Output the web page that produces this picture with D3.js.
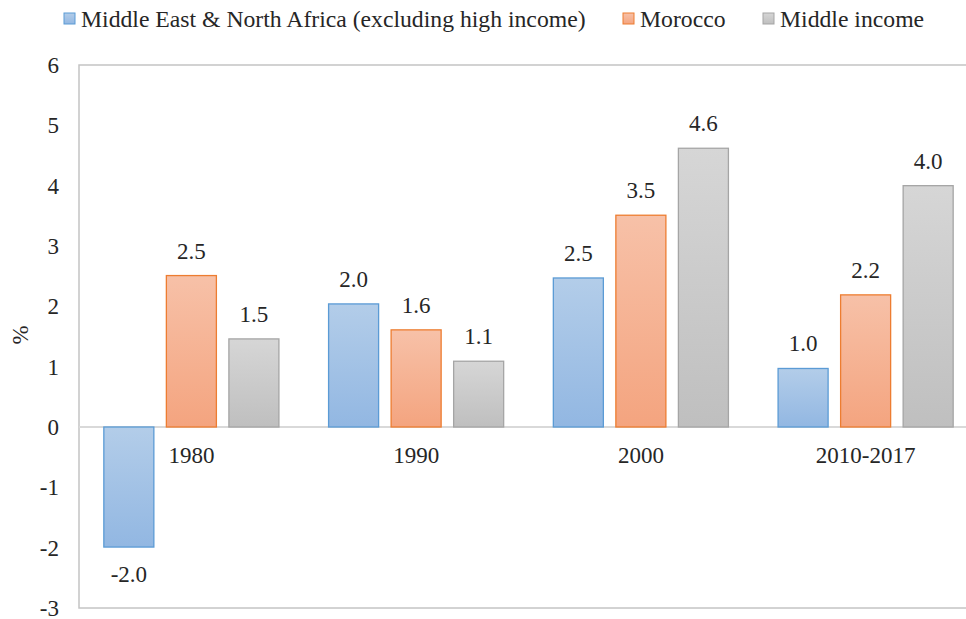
<!DOCTYPE html>
<html>
<head>
<meta charset="utf-8">
<script src="https://cdn.jsdelivr.net/npm/d3@7"></script>
<style>
  html,body{margin:0;padding:0;background:#fff;}
  svg{display:block;}
  text{font-family:"Liberation Serif","Times New Roman",serif;fill:#262626;}
</style>
</head>
<body>
<div id="chart"></div>
<script>
/* Grouped bar chart, three series per period, Excel-style gradient fills */
var categories=["1980","1990","2000","2010-2017"];
var seriesNames=["Middle East & North Africa (excluding high income)","Morocco","Middle income"];
var menaValues=[-1.99,2.04,2.47,0.97];
var moroccoValues=[2.51,1.61,3.51,2.19];
var middleIncomeValues=[1.46,1.09,4.62,4.0];
var yTicks=[-3,-2,-1,0,1,2,3,4,5,6];

var seriesValues=[menaValues,moroccoValues,middleIncomeValues];
var fills=[["#b3cde9","#92b7e2"],["#f7c1a8","#f4a47f"],["#d6d6d6","#bfbfbf"]];
var strokes=["#5b9bd5","#ed7d31","#a5a5a5"];

var W=966,H=619, pLeft=79,pRight=978,pTop=65,pBottom=608;
var svg=d3.select("#chart").append("svg").attr("width",W).attr("height",H);
var defs=svg.append("defs");
fills.forEach(function(f,i){
    var g=defs.append("linearGradient").attr("id","grad"+i).attr("x1",0).attr("y1",0).attr("x2",0).attr("y2",1);
    g.append("stop").attr("offset","0%").attr("stop-color",f[0]);
    g.append("stop").attr("offset","100%").attr("stop-color",f[1]);
});

var y=d3.scaleLinear().domain([-3,6]).range([pBottom,pTop]);
var x0=d3.scaleBand().domain(categories).range([pLeft,pRight]).paddingInner(0.221).paddingOuter(0.1105);
var x1=d3.scaleBand().domain(d3.range(seriesNames.length)).range([0,x0.bandwidth()]).paddingInner(0.2);

// plot frame
svg.append("rect").attr("x",pLeft).attr("y",pTop).attr("width",pRight-pLeft+20).attr("height",pBottom-pTop)
    .attr("fill","none").attr("stroke","#c4c4c4").attr("stroke-width",1.5);

// y tick labels
svg.append("g").selectAll("text").data(yTicks).enter().append("text")
    .attr("x",59).attr("y",function(d){return y(d);}).attr("dy","0.35em")
    .attr("text-anchor","end").style("font-size","23px").text(function(d){return d;});
svg.append("text").attr("transform","translate(20,335) rotate(-90)").attr("text-anchor","middle")
    .attr("dy","0.35em").style("font-size","23px").text("%");

// zero line
svg.append("line").attr("x1",pLeft).attr("x2",W).attr("y1",y(0)).attr("y2",y(0))
    .attr("stroke","#d9d9d9").attr("stroke-width",2);

// bars
var cells=[];
categories.forEach(function(c,ci){
    seriesValues.forEach(function(vals,si){cells.push({cat:c,s:si,v:vals[ci]});});
});
svg.append("g").selectAll("rect").data(cells).enter().append("rect")
    .attr("x",function(d){return x0(d.cat)+x1(d.s);})
    .attr("y",function(d){return y(Math.max(0,d.v));})
    .attr("width",x1.bandwidth())
    .attr("height",function(d){return Math.abs(y(d.v)-y(0));})
    .attr("fill",function(d){return "url(#grad"+d.s+")";})
    .attr("stroke",function(d){return strokes[d.s];}).attr("stroke-width",1.3);

// value labels
svg.append("g").selectAll("text").data(cells).enter().append("text")
    .attr("x",function(d){return x0(d.cat)+x1(d.s)+x1.bandwidth()/2;})
    .attr("y",function(d){return d.v>=0?y(d.v)-17:y(d.v)+35;})
    .attr("text-anchor","middle").style("font-size","23px")
    .text(function(d){return d.v.toFixed(1);});

// category labels
svg.append("g").selectAll("text").data(categories).enter().append("text")
    .attr("x",function(d){return x0(d)+x0.bandwidth()/2;}).attr("y",y(0)+36)
    .attr("text-anchor","middle").style("font-size","23px").text(function(d){return d;});

// legend
var legX=[64,623,763];
var leg=svg.append("g").selectAll("g").data(seriesNames).enter().append("g")
    .attr("transform",function(d,i){return "translate("+legX[i]+",13)";});
leg.append("rect").attr("width",11).attr("height",11)
    .attr("fill",function(d,i){return "url(#grad"+i+")";})
    .attr("stroke",function(d,i){return strokes[i];}).attr("stroke-width",1);
leg.append("text").attr("x",17).attr("y",5.5).attr("dy","0.35em").style("font-size","23.7px")
    .text(function(d){return d;});
</script>
</body>
</html>
